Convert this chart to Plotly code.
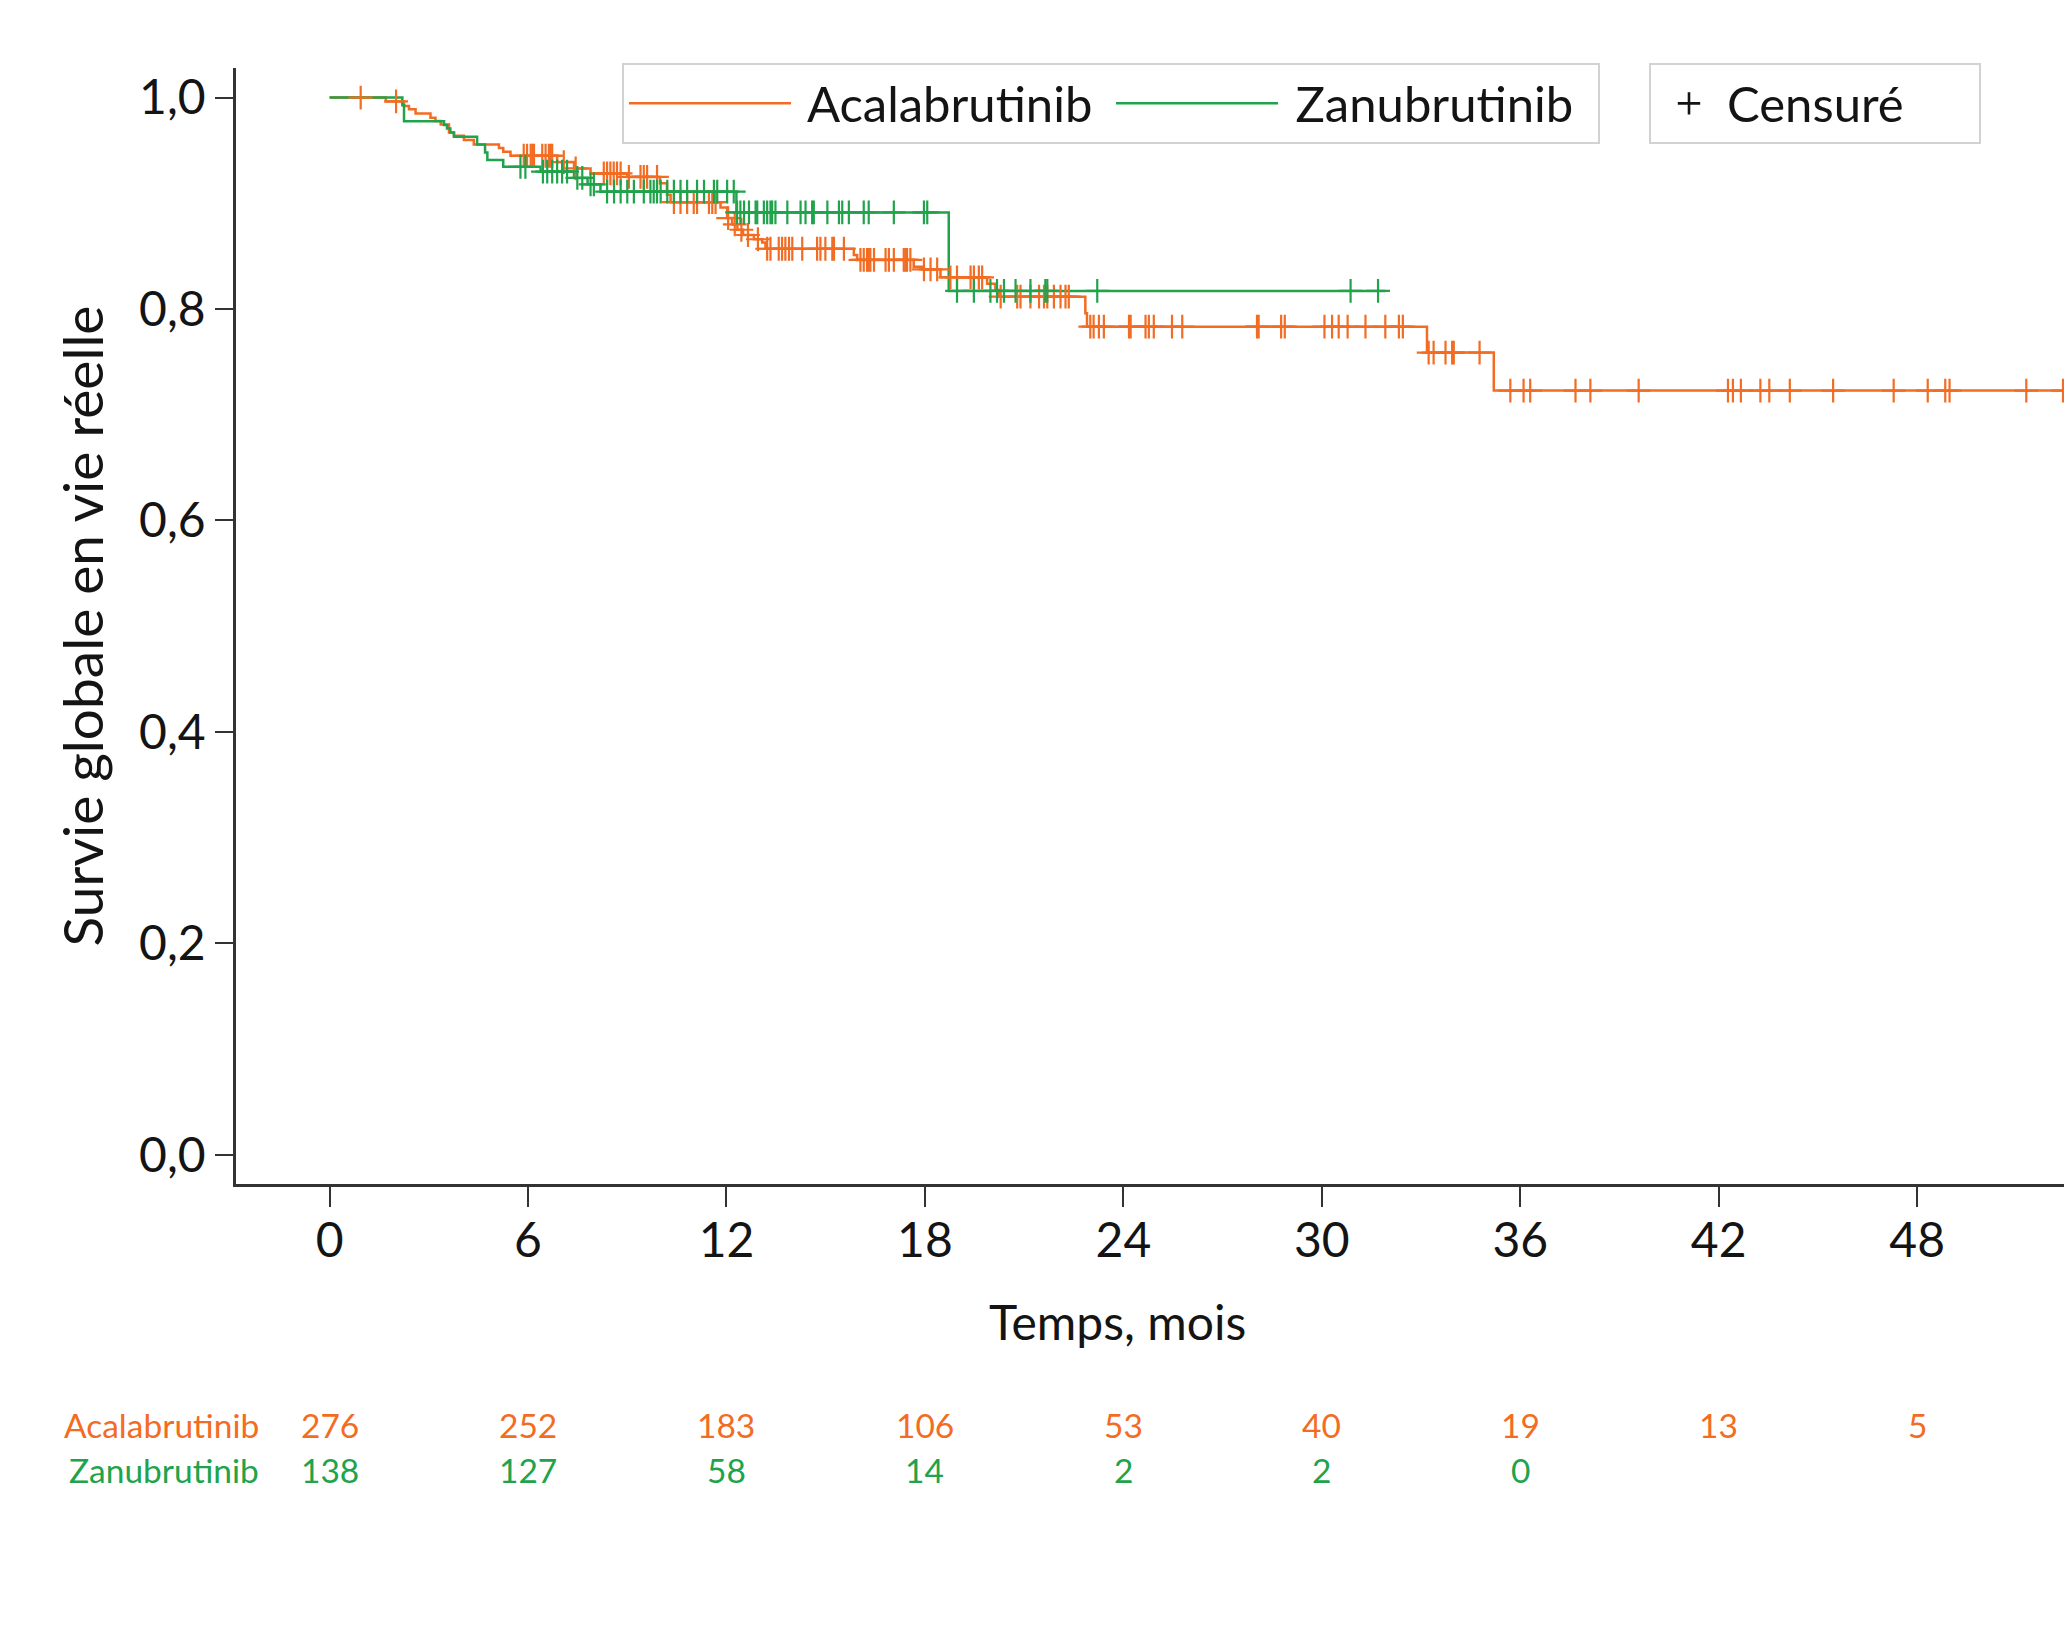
import numpy as np
import plotly.graph_objects as go

# ---------------- data ----------------
acala_t = [0.0, 1.70, 2.25, 2.40, 2.60, 3.05, 3.20, 3.36, 3.61, 3.76, 4.06, 4.36, 5.12, 5.25, 5.47,
           6.88, 7.39, 7.89, 9.00, 9.99, 10.20, 10.31, 11.82, 12.02, 12.17, 12.33, 12.50, 12.83, 13.08,
           13.18, 15.85, 15.95, 17.66, 17.92, 18.47, 19.88, 20.13, 20.23, 22.85, 22.90, 33.18, 35.20]
acala_s = [1.0, 0.9964, 0.9921, 0.9889, 0.9849, 0.9810, 0.9778, 0.9745, 0.9670, 0.9638, 0.9598, 0.9556,
           0.9524, 0.9487, 0.9450, 0.9390, 0.9330, 0.9283, 0.9250, 0.9190, 0.9080, 0.9011, 0.8960,
           0.8860, 0.8800, 0.8750, 0.8700, 0.8660, 0.8630, 0.8570, 0.8510, 0.8464, 0.8400, 0.8375,
           0.8300, 0.8240, 0.8180, 0.8117, 0.7960, 0.7833, 0.7588, 0.7229]
acala_end = 52.45
acala_cens = [0.94, 2.01, 5.87, 5.97, 6.08, 6.13, 6.18, 6.43, 6.53, 6.63, 6.68, 6.73, 7.08, 7.44,
              8.29, 8.39, 8.49, 8.59, 8.69, 8.80, 9.05, 9.40, 9.50, 9.60, 9.90,
              10.41, 10.61, 10.81, 11.01, 11.11, 11.47, 11.57, 11.67, 12.05, 12.25, 12.45, 12.65, 12.95,
              13.23, 13.33, 13.58, 13.68, 13.78, 13.89, 13.99, 14.29, 14.74, 14.84, 14.99, 15.20, 15.25,
              15.55, 16.05, 16.15, 16.25, 16.30, 16.35, 16.46, 16.81, 16.91, 17.06, 17.36, 17.41, 17.46,
              17.56, 17.97, 18.17, 18.37, 18.77, 18.97, 19.38, 19.48, 19.63, 19.73,
              20.29, 20.79, 20.89, 21.19, 21.45, 21.60, 21.70, 21.90, 22.10, 22.25, 22.35,
              23.00, 23.10, 23.26, 23.41, 24.17, 24.22, 24.67, 24.77, 24.92, 25.47, 25.78,
              28.04, 28.09, 28.77, 28.88, 30.08, 30.31, 30.51, 30.78, 31.32, 31.92, 32.33, 32.45,
              33.23, 33.38, 33.74, 33.94, 33.99, 34.77, 35.70, 36.10, 36.30, 37.67, 38.12, 39.58,
              42.28, 42.43, 42.67, 43.26, 43.53, 44.15, 45.46, 47.29, 48.32, 48.85, 48.98, 51.30, 52.41]

zanu_t = [0.0, 2.20, 2.25, 3.46, 3.55, 3.65, 3.76, 4.46, 4.70, 4.77, 5.25, 6.38, 7.39, 7.80, 8.19,
          12.30, 18.72]
zanu_s = [1.0, 0.9928, 0.9777, 0.9740, 0.9707, 0.9670, 0.9630, 0.9556, 0.9480, 0.9410, 0.9346,
          0.9300, 0.9240, 0.9180, 0.9110, 0.8914, 0.8171]
zanu_end = 31.92
zanu_cens = [5.77, 5.92, 6.45, 6.58, 6.73, 6.88, 7.03, 7.18, 7.49, 7.64, 7.89, 7.99,
             8.39, 8.60, 8.80, 9.00, 9.20, 9.50, 9.70, 9.80, 9.90, 10.01, 10.21, 10.41, 10.61,
             10.81, 11.11, 11.32, 11.62, 11.72, 12.02, 12.22,
             12.32, 12.42, 12.53, 12.68, 12.88, 12.93, 13.13, 13.23, 13.33, 13.38, 13.48, 13.84,
             14.24, 14.39, 14.59, 14.64, 15.05, 15.40, 15.50, 15.70, 16.15, 16.30, 17.06, 17.97,
             18.07, 18.97, 19.48, 19.98, 20.18, 20.39, 20.74, 21.19, 21.64, 21.70, 23.21, 30.87, 31.70]

x_ticks = [0, 6, 12, 18, 24, 30, 36, 42, 48]
y_ticks = [0.0, 0.2, 0.4, 0.6, 0.8, 1.0]
y_ticklabels = ["0,0", "0,2", "0,4", "0,6", "0,8", "1,0"]
risk_acala = [276, 252, 183, 106, 53, 40, 19, 13, 5]
risk_zanu = [138, 127, 58, 14, 2, 2, 0]

ORANGE = "#F26C23"
GREEN = "#20A34B"
FONT = "Lato"
TXT = "#141414"
NB = "\u00a0"


def surv_at(times, surv, c):
    idx = np.searchsorted(np.array(times), np.array(c), side="right") - 1
    return np.array(surv)[idx]


fig = go.Figure()

for name, t, s, end, col in [
    ("Acalabrutinib", acala_t, acala_s, acala_end, ORANGE),
    ("Zanubrutinib", zanu_t, zanu_s, zanu_end, GREEN),
]:
    fig.add_trace(go.Scatter(
        x=list(t) + [end], y=list(s) + [s[-1]], mode="lines", name=NB + name,
        line=dict(color=col, width=2.5, shape="hv"), legend="legend",
    ))

for t, s, cens, col in [(acala_t, acala_s, acala_cens, ORANGE), (zanu_t, zanu_s, zanu_cens, GREEN)]:
    fig.add_trace(go.Scatter(
        x=cens, y=surv_at(t, s, cens), mode="markers", showlegend=False,
        marker=dict(symbol="cross-thin", size=17, line=dict(color=col, width=2.2), color=col),
    ))

fig.add_trace(go.Scatter(
    x=[None], y=[None], mode="markers", name="Censuré", legend="legend2",
    marker=dict(symbol="cross-thin", size=24, line=dict(color=TXT, width=2.6), color=TXT),
))

# risk table
for vals, col, lab, yp in [(risk_acala, ORANGE, "Acalabrutinib", -0.216),
                           (risk_zanu, GREEN, "Zanubrutinib", -0.256)]:
    fig.add_annotation(x=-2.08, xref="x", y=yp, yref="paper", text=lab, showarrow=False,
                       xanchor="right", yanchor="middle", font=dict(size=33.5, color=col, family=FONT))
    for xv, v in zip(x_ticks, vals):
        fig.add_annotation(x=xv, xref="x", y=yp, yref="paper", text=str(v), showarrow=False,
                           xanchor="center", yanchor="middle", font=dict(size=33.5, color=col, family=FONT))

# x-axis title (centred under the 24-month tick, as in the original)
fig.add_annotation(x=23.83, xref="x", y=-0.1233, yref="paper", text="Temps, mois", showarrow=False,
                   xanchor="center", yanchor="middle", font=dict(size=48, color=TXT, family=FONT))

W, H = 2064, 1628
L, R, T, B = 236, 0, 68, 444
pw, ph = W - L - R, H - T - B
LEG_TOP = 63

fig.update_layout(
    width=W, height=H,
    margin=dict(l=L, r=R, t=T, b=B),
    paper_bgcolor="white", plot_bgcolor="white",
    font=dict(family=FONT, color=TXT, size=48),
    xaxis=dict(range=[-2.83, 52.44], tickvals=x_ticks, showgrid=False, zeroline=False,
               showline=True, linecolor="#333333", linewidth=2.5, ticks="outside", ticklen=20,
               tickwidth=2, tickcolor="#333333", tickfont=dict(size=48), ticklabelstandoff=-7),
    yaxis=dict(range=[-0.0277, 1.028], tickvals=y_ticks, ticktext=y_ticklabels, showgrid=False,
               zeroline=False, showline=True, linecolor="#333333", linewidth=2.5, ticks="outside",
               ticklen=18, tickwidth=2, tickcolor="#333333", tickfont=dict(size=48),
               title=dict(text="Survie globale en vie réelle", font=dict(size=55), standoff=18)),
    legend=dict(x=(622 - L) / pw, y=(H - B - LEG_TOP) / ph, xanchor="left", yanchor="top",
                orientation="h", bordercolor="#d2d2d2", borderwidth=2, bgcolor="white",
                font=dict(size=49, family=FONT, color=TXT), itemwidth=162, entrywidth=310),
    legend2=dict(x=(1649 - L) / pw, y=(H - B - LEG_TOP) / ph, xanchor="left", yanchor="top",
                 orientation="h", bordercolor="#d2d2d2", borderwidth=2, bgcolor="white",
                 font=dict(size=49, family=FONT, color=TXT), itemwidth=66, entrywidth=247),
)

fig.write_html("out.html", config={"displayModeBar": False},
               post_script="document.body.style.margin='0';")
